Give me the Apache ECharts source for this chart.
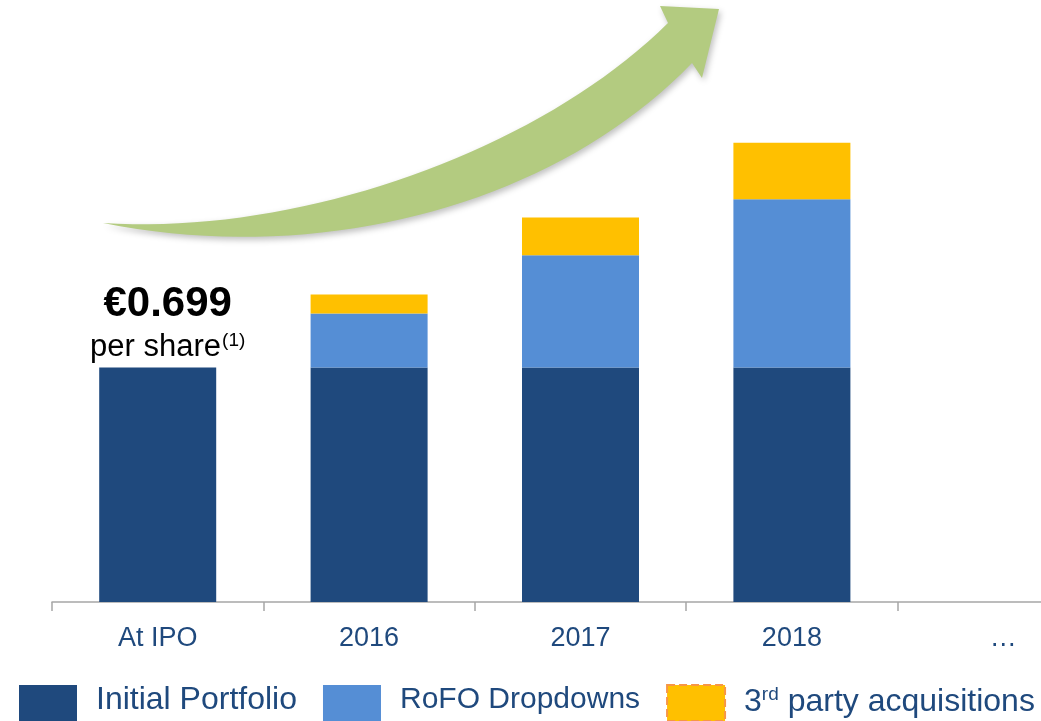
<!DOCTYPE html>
<html>
<head>
<meta charset="utf-8">
<title>DPS growth</title>
<style>
  html, body { margin: 0; padding: 0; background: #fff; }
  #main { width: 1041px; height: 721px; }
</style>
</head>
<body>
<div id="main"></div>
<script src="https://cdn.jsdelivr.net/npm/echarts@6/dist/echarts.min.js"></script>
<script type="text/javascript">
// categories
var categories = ['At IPO', '2016', '2017', '2018', '…'];
// € per share, stacked
var initialPortfolio = [0.699, 0.699, 0.699, 0.699, null];
var rofoDropdowns = [null, 0.161, 0.335, 0.502, null];
var thirdParty = [null, 0.057, 0.112, 0.168, null];

var navy = '#1F497D', lightBlue = '#558ED5', yellow = '#FFC000';
var fontFamily = "'Liberation Sans', Arial, sans-serif";

var myChart = echarts.init(document.getElementById('main'));

// decorative growth arrow outline (cubic curves sampled into a polygon)
function cubic(p0, p1, p2, p3, n) {
  var pts = [];
  for (var i = 0; i <= n; i++) {
    var t = i / n, u = 1 - t;
    pts.push([
      u * u * u * p0[0] + 3 * u * u * t * p1[0] + 3 * u * t * t * p2[0] + t * t * t * p3[0],
      u * u * u * p0[1] + 3 * u * u * t * p1[1] + 3 * u * t * t * p2[1] + t * t * t * p3[1]
    ]);
  }
  return pts;
}
var arrowPts = cubic([103, 223], [300, 236], [540, 150], [668, 23], 40)
  .concat([[660, 6], [719, 9], [702, 78]])
  .concat(cubic([692, 63], [560, 200], [330, 268], [103, 223], 40));

// first bar carries the "€0.699 per share(1)" callout
var initialData = initialPortfolio.map(function (v, i) {
  if (i !== 0) return v;
  return {
    value: v,
    label: {
      show: true,
      position: 'top',
      distance: 5,
      offset: [10, 0],
      formatter: '{b|€0.699}\n{n|per share}{s|(1)}',
      rich: {
        b: { fontSize: 42, fontWeight: 'bold', color: '#000', lineHeight: 44, fontFamily: fontFamily },
        n: { fontSize: 31, color: '#000', lineHeight: 36, verticalAlign: 'bottom', fontFamily: fontFamily },
        s: { fontSize: 19, color: '#000', lineHeight: 36, verticalAlign: 'bottom', padding: [0, 0, 12, 1], fontFamily: fontFamily }
      }
    }
  };
});

var option = {
  animation: false,
  grid: { left: 52, width: 1057, top: 10, height: 592, outerBoundsMode: 'none', containLabel: false },
  xAxis: {
    type: 'category',
    data: categories,
    axisLine: { show: true, lineStyle: { color: '#A6A6A6', width: 1.5 } },
    axisTick: { show: true, interval: 0, length: 9, lineStyle: { color: '#A6A6A6', width: 1.5 } },
    axisLabel: { color: navy, fontSize: 27, margin: 23, fontFamily: fontFamily }
  },
  yAxis: { type: 'value', min: 0, max: 1.765, show: false },
  legend: {
    left: 19,
    top: 684,
    width: 1100,
    padding: 0,
    icon: 'rect',
    itemWidth: 58,
    itemHeight: 36,
    itemGap: 26,
    textStyle: {
      color: navy,
      fontSize: 32,
      fontFamily: fontFamily,
      padding: [0, 0, 6, 14],
      rich: {
        t: { color: navy, fontSize: 32, fontFamily: fontFamily, verticalAlign: 'bottom', lineHeight: 36 },
        sup: { color: navy, fontSize: 19, fontFamily: fontFamily, verticalAlign: 'bottom', lineHeight: 22, padding: [0, 0, 14, 0] }
      }
    },
    formatter: function (name) {
      if (name === '3rd party acquisitions') return '{t|3}{sup|rd}{t| party acquisitions}';
      return name;
    },
    data: [
      { name: 'Initial Portfolio' },
      { name: 'RoFO Dropdowns', textStyle: { fontSize: 30 } },
      { name: '3rd party acquisitions', itemStyle: { borderColor: '#F79646', borderType: 'dashed', borderWidth: 2 } }
    ]
  },
  graphic: [{
    type: 'polygon',
    shape: { points: arrowPts },
    style: {
      fill: '#B3CB80',
      shadowBlur: 6,
      shadowOffsetX: 2,
      shadowOffsetY: 3,
      shadowColor: 'rgba(0,0,0,0.25)'
    },
    z: 10
  }],
  series: [{
    name: 'Initial Portfolio',
    type: 'bar',
    stack: 'dps',
    barWidth: 117,
    itemStyle: { color: navy },
    data: initialData
  }, {
    name: 'RoFO Dropdowns',
    type: 'bar',
    stack: 'dps',
    barWidth: 117,
    itemStyle: { color: lightBlue },
    data: rofoDropdowns
  }, {
    name: '3rd party acquisitions',
    type: 'bar',
    stack: 'dps',
    barWidth: 117,
    itemStyle: { color: yellow },
    data: thirdParty
  }]
};

myChart.setOption(option);
</script>
</body>
</html>
